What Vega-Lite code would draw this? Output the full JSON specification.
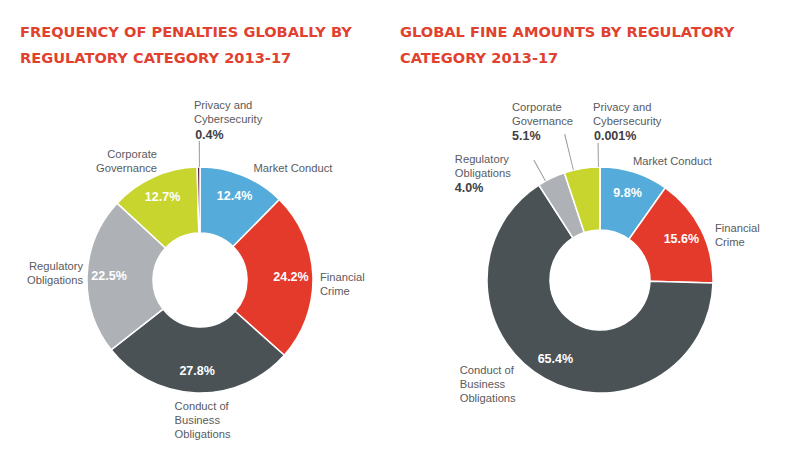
{
  "$schema": "https://vega.github.io/schema/vega-lite/v6.json",
  "padding": {"left": 0, "right": 0, "top": 25, "bottom": 0},
  "spacing": 0,
  "config": {
    "view": {"stroke": null},
    "font": "Liberation Sans",
    "title": {"anchor": "start", "frame": "group", "fontSize": 14.6, "font": "DejaVu Sans", "fontWeight": "bold", "color": "#e1412f", "lineHeight": 26, "offset": 27},
    "text": {"font": "Liberation Sans", "fontSize": 11.2, "color": "#5a5b5d", "lineHeight": 14, "baseline": "middle"}
  },
  "datasets": {
    "freq": [
      {"cat": "Market Conduct", "ord": 1, "value": 12.4, "pct": "12.4%", "name": "Market Conduct"},
      {"cat": "Financial Crime", "ord": 2, "value": 24.2, "pct": "24.2%", "name": "Financial\nCrime"},
      {"cat": "Conduct of Business Obligations", "ord": 3, "value": 27.8, "pct": "27.8%", "name": "Conduct of\nBusiness\nObligations"},
      {"cat": "Regulatory Obligations", "ord": 4, "value": 22.5, "pct": "22.5%", "name": "Regulatory\nObligations"},
      {"cat": "Corporate Governance", "ord": 5, "value": 12.7, "pct": "12.7%", "name": "Corporate\nGovernance"},
      {"cat": "Privacy and Cybersecurity", "ord": 6, "value": 0.4, "pct": "0.4%", "name": "Privacy and\nCybersecurity"}
    ],
    "fines": [
      {"cat": "Market Conduct", "ord": 1, "value": 9.8, "pct": "9.8%", "name": "Market Conduct"},
      {"cat": "Financial Crime", "ord": 2, "value": 15.6, "pct": "15.6%", "name": "Financial\nCrime"},
      {"cat": "Conduct of Business Obligations", "ord": 3, "value": 65.4, "pct": "65.4%", "name": "Conduct of\nBusiness\nObligations"},
      {"cat": "Regulatory Obligations", "ord": 4, "value": 4.0, "pct": "4.0%", "name": "Regulatory\nObligations"},
      {"cat": "Corporate Governance", "ord": 5, "value": 5.1, "pct": "5.1%", "name": "Corporate\nGovernance"},
      {"cat": "Privacy and Cybersecurity", "ord": 6, "value": 0.001, "pct": "0.001%", "name": "Privacy and\nCybersecurity"}
    ]
  },
  "hconcat": [
    {
      "width": 400,
      "height": 374,
      "data": {"name": "freq"},
      "title": {"text": ["FREQUENCY OF PENALTIES GLOBALLY BY", "REGULATORY CATEGORY 2013-17"], "dx": 20},
      "encoding": {
        "theta": {"field": "value", "type": "quantitative", "stack": true},
        "order": {"field": "ord", "type": "quantitative"},
        "detail": {"field": "cat", "type": "nominal"}
      },
      "layer": [
        {
          "mark": {"type": "arc", "innerRadius": 47, "outerRadius": 113, "stroke": "white", "strokeWidth": 1.5},
          "encoding": {
            "color": {"field": "cat", "type": "nominal", "legend": null,
              "scale": {"domain": ["Market Conduct", "Financial Crime", "Conduct of Business Obligations", "Regulatory Obligations", "Corporate Governance", "Privacy and Cybersecurity"],
                        "range": ["#55acda", "#e43a2b", "#4a5256", "#aeb2b6", "#c8d52e", "#5c2150"]}}
          }
        },
        {
          "transform": [
            {"stack": "value", "groupby": [], "sort": [{"field": "ord", "order": "ascending"}], "as": ["v0", "v1"]},
            {"filter": "datum.cat === 'Privacy and Cybersecurity'"}
          ],
          "mark": {"type": "arc", "innerRadius": 113, "outerRadius": 139, "fill": "#9a9a9a", "thetaOffset": 0.016, "theta2Offset": 0.024},
          "encoding": {
            "theta": {"field": "v0", "type": "quantitative", "stack": null},
            "theta2": {"field": "v0"},
            "order": null,
            "detail": null
          }
        },
        {
          "mark": {"type": "text", "radius": 91, "fontSize": 12.5, "fontWeight": "bold", "color": "white"},
          "encoding": {"text": {"condition": {"test": "datum.cat !== 'Privacy and Cybersecurity'", "field": "pct"}, "value": ""}}
        },
        {
          "mark": {"type": "text", "radius": 125, "align": "left", "dx": 6, "dy": 5},
          "encoding": {"text": {"condition": {"test": "datum.cat === 'Market Conduct'", "field": "name"}, "value": ""}}
        },
        {
          "mark": {"type": "text", "radius": 120, "align": "left", "dx": 0, "dy": 2, "lineBreak": "\n"},
          "encoding": {"text": {"condition": {"test": "datum.cat === 'Financial Crime'", "field": "name"}, "value": ""}}
        },
        {
          "mark": {"type": "text", "radius": 140, "align": "left", "dx": -21, "dy": -13, "lineBreak": "\n"},
          "encoding": {"text": {"condition": {"test": "datum.cat === 'Conduct of Business Obligations'", "field": "name"}, "value": ""}}
        },
        {
          "mark": {"type": "text", "radius": 115, "align": "right", "dx": -2, "dy": -8, "lineBreak": "\n"},
          "encoding": {"text": {"condition": {"test": "datum.cat === 'Regulatory Obligations'", "field": "name"}, "value": ""}}
        },
        {
          "mark": {"type": "text", "radius": 124, "align": "right", "dx": 8, "dy": -12, "lineBreak": "\n"},
          "encoding": {"text": {"condition": {"test": "datum.cat === 'Corporate Governance'", "field": "name"}, "value": ""}}
        },
        {
          "mark": {"type": "text", "radius": 169, "align": "left", "dx": -4, "dy": -5, "lineBreak": "\n"},
          "encoding": {"text": {"condition": {"test": "datum.cat === 'Privacy and Cybersecurity'", "field": "name"}, "value": ""}}
        },
        {
          "mark": {"type": "text", "radius": 146, "align": "left", "dx": -3, "dy": 1, "fontSize": 12.5, "fontWeight": "bold", "color": "#3f4042"},
          "encoding": {"text": {"condition": {"test": "datum.cat === 'Privacy and Cybersecurity'", "field": "pct"}, "value": ""}}
        }
      ]
    },
    {
      "width": 400,
      "height": 374,
      "data": {"name": "fines"},
      "title": {"text": ["GLOBAL FINE AMOUNTS BY REGULATORY", "CATEGORY 2013-17"], "dx": 0},
      "encoding": {
        "theta": {"field": "value", "type": "quantitative", "stack": true},
        "order": {"field": "ord", "type": "quantitative"},
        "detail": {"field": "cat", "type": "nominal"}
      },
      "layer": [
        {
          "mark": {"type": "arc", "innerRadius": 50, "outerRadius": 113, "stroke": "white", "strokeWidth": 1.5},
          "encoding": {
            "color": {"field": "cat", "type": "nominal", "legend": null,
              "scale": {"domain": ["Market Conduct", "Financial Crime", "Conduct of Business Obligations", "Regulatory Obligations", "Corporate Governance", "Privacy and Cybersecurity"],
                        "range": ["#55acda", "#e43a2b", "#4a5256", "#aeb2b6", "#c8d52e", "#5c2150"]}}
          }
        },
        {
          "transform": [
            {"stack": "value", "groupby": [], "sort": [{"field": "ord", "order": "ascending"}], "as": ["v0", "v1"]},
            {"filter": "datum.cat === 'Privacy and Cybersecurity'"}
          ],
          "mark": {"type": "arc", "innerRadius": 113, "outerRadius": 137, "fill": "#9a9a9a", "thetaOffset": -0.018, "theta2Offset": -0.010},
          "encoding": {
            "theta": {"field": "v0", "type": "quantitative", "stack": null},
            "theta2": {"field": "v0"},
            "order": null,
            "detail": null
          }
        },
        {
          "transform": [
            {"stack": "value", "groupby": [], "sort": [{"field": "ord", "order": "ascending"}], "as": ["v0", "v1"]},
            {"filter": "datum.cat === 'Regulatory Obligations'"}
          ],
          "mark": {"type": "arc", "innerRadius": 113, "outerRadius": 137, "fill": "#9a9a9a", "thetaOffset": 0.0645, "theta2Offset": 0.0725},
          "encoding": {
            "theta": {"field": "v0", "type": "quantitative", "stack": null},
            "theta2": {"field": "v0"},
            "order": null,
            "detail": null
          }
        },
        {
          "transform": [
            {"stack": "value", "groupby": [], "sort": [{"field": "ord", "order": "ascending"}], "as": ["v0", "v1"]},
            {"filter": "datum.cat === 'Corporate Governance'"}
          ],
          "mark": {"type": "arc", "innerRadius": 113, "outerRadius": 150, "fill": "#9a9a9a", "thetaOffset": 0.0795, "theta2Offset": 0.0870},
          "encoding": {
            "theta": {"field": "v0", "type": "quantitative", "stack": null},
            "theta2": {"field": "v0"},
            "order": null,
            "detail": null
          }
        },
        {
          "mark": {"type": "text", "radius": 91, "fontSize": 12.5, "fontWeight": "bold", "color": "white"},
          "encoding": {"text": {"condition": {"test": "datum.ord <= 3", "field": "pct"}, "value": ""}}
        },
        {
          "mark": {"type": "text", "radius": 125, "align": "left", "dx": -5, "dy": 1},
          "encoding": {"text": {"condition": {"test": "datum.cat === 'Market Conduct'", "field": "name"}, "value": ""}}
        },
        {
          "mark": {"type": "text", "radius": 123, "align": "left", "dx": 5, "dy": 4, "lineBreak": "\n"},
          "encoding": {"text": {"condition": {"test": "datum.cat === 'Financial Crime'", "field": "name"}, "value": ""}}
        },
        {
          "mark": {"type": "text", "radius": 125, "align": "left", "dx": -79, "dy": -18, "lineBreak": "\n"},
          "encoding": {"text": {"condition": {"test": "datum.cat === 'Conduct of Business Obligations'", "field": "name"}, "value": ""}}
        },
        {
          "mark": {"type": "text", "radius": 130, "align": "left", "dx": -89, "dy": -3, "lineBreak": "\n"},
          "encoding": {"text": {"condition": {"test": "datum.cat === 'Regulatory Obligations'", "field": "name"}, "value": ""}}
        },
        {
          "mark": {"type": "text", "radius": 130, "align": "left", "dx": -89, "dy": 25, "fontSize": 12.5, "fontWeight": "bold", "color": "#3f4042"},
          "encoding": {"text": {"condition": {"test": "datum.cat === 'Regulatory Obligations'", "field": "pct"}, "value": ""}}
        },
        {
          "mark": {"type": "text", "radius": 150, "align": "left", "dx": -64, "dy": -24, "lineBreak": "\n"},
          "encoding": {"text": {"condition": {"test": "datum.cat === 'Corporate Governance'", "field": "name"}, "value": ""}}
        },
        {
          "mark": {"type": "text", "radius": 150, "align": "left", "dx": -64, "dy": 4, "fontSize": 12.5, "fontWeight": "bold", "color": "#3f4042"},
          "encoding": {"text": {"condition": {"test": "datum.cat === 'Corporate Governance'", "field": "pct"}, "value": ""}}
        },
        {
          "mark": {"type": "text", "radius": 150, "align": "left", "dx": -7, "dy": -22, "lineBreak": "\n"},
          "encoding": {"text": {"condition": {"test": "datum.cat === 'Privacy and Cybersecurity'", "field": "name"}, "value": ""}}
        },
        {
          "mark": {"type": "text", "radius": 150, "align": "left", "dx": -6, "dy": 6, "fontSize": 12.5, "fontWeight": "bold", "color": "#3f4042"},
          "encoding": {"text": {"condition": {"test": "datum.cat === 'Privacy and Cybersecurity'", "field": "pct"}, "value": ""}}
        }
      ]
    }
  ]
}
